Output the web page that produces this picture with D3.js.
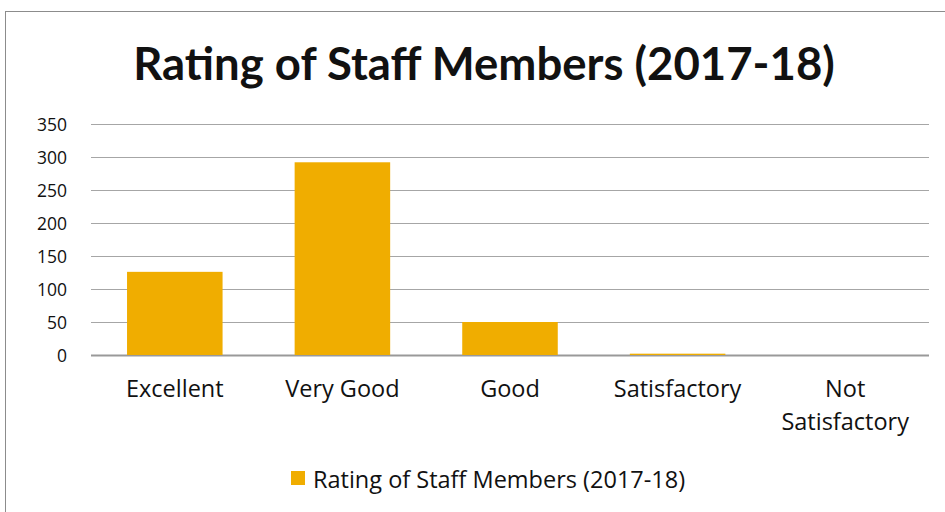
<!DOCTYPE html>
<html>
<head>
<meta charset="utf-8">
<script src="https://cdn.jsdelivr.net/npm/d3@7"></script>
<style>
  body { margin: 0; background: #fff; }
  text { font-family: "Open Sans", Lato, sans-serif; fill: #111; }
  .title { font-family: Lato, sans-serif; }
</style>
</head>
<body>
<svg id="chart" width="945" height="512"></svg>
<script>
const categories = ["Excellent", "Very Good", "Good", "Satisfactory", "Not Satisfactory"];
const values = [126, 292, 50, 2, 0];
const yTicks = [0, 50, 100, 150, 200, 250, 300, 350];
const seriesName = "Rating of Staff Members (2017-18)";

const svg = d3.select("#chart");
const color = "#f0ad00";

// chart frame
svg.append("rect")
  .attr("x", 5.5).attr("y", 11.5)
  .attr("width", 960).attr("height", 520)
  .attr("fill", "none").attr("stroke", "#8c8c8c").attr("stroke-width", 1);

svg.append("text")
  .attr("class", "title")
  .attr("x", 484).attr("y", 80)
  .attr("text-anchor", "middle")
  .attr("font-size", 45.5).attr("font-weight", "bold")
  .text(seriesName);

const x = d3.scaleBand().domain(categories).range([91, 929]).paddingInner(0.43).paddingOuter(0.215);
const y = d3.scaleLinear().domain([0, 350]).range([355, 124]);

// gridlines
svg.append("g").selectAll("line")
  .data(yTicks)
  .join("line")
  .attr("x1", 91).attr("x2", 929)
  .attr("y1", d => Math.round(y(d)) + 0.5).attr("y2", d => Math.round(y(d)) + 0.5)
  .attr("stroke", d => d === 0 ? "#999" : "#a6a6a6").attr("stroke-width", d => d === 0 ? 2 : 1.2);

// y tick labels
svg.append("g").selectAll("text")
  .data(yTicks)
  .join("text")
  .attr("x", 67).attr("y", d => y(d) + 7)
  .attr("text-anchor", "end")
  .attr("font-size", 17.5)
  .text(d => d);

svg.append("g").selectAll("rect")
  .data(values)
  .join("rect")
  .attr("x", (d, i) => x(categories[i]))
  .attr("width", x.bandwidth())
  .attr("y", d => y(d))
  .attr("height", d => y(0) - y(d))
  .attr("fill", color);

// category labels (wrap two-word label that doesn't fit)
const catG = svg.append("g").selectAll("text")
  .data(categories)
  .join("text")
  .attr("text-anchor", "middle")
  .attr("font-size", 23.5)
  .attr("y", 397);
catG.each(function(d) {
  const t = d3.select(this);
  const cx = x(d) + x.bandwidth() / 2;
  const lines = d === "Not Satisfactory" ? ["Not", "Satisfactory"] : [d];
  lines.forEach((s, i) => t.append("tspan").attr("x", cx).attr("dy", i ? 33 : 0).text(s));
});

// legend
svg.append("rect").attr("x", 291).attr("y", 471).attr("width", 14).attr("height", 14).attr("fill", color);
svg.append("text").attr("x", 313).attr("y", 488).attr("font-size", 23.5).text(seriesName);
</script>
</body>
</html>
